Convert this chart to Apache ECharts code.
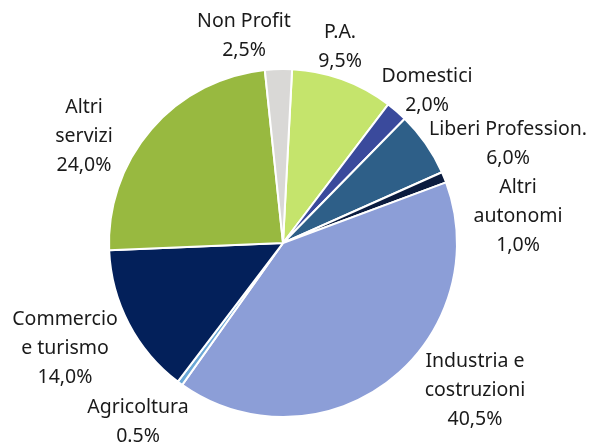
<!DOCTYPE html>
<html>
<head>
<meta charset="utf-8">
<script src="https://cdn.jsdelivr.net/npm/echarts@6/dist/echarts.min.js"></script>
<style>
  html, body { margin: 0; padding: 0; background: #fff; }
  #pie_chart { width: 592px; height: 443px; }
</style>
</head>
<body>
<div id="pie_chart"></div>
<script>
// slices, clockwise from the top
const categories = ['P.A.', 'Domestici', 'Liberi Profession.', 'Altri\nautonomi',
  'Industria e\ncostruzioni', 'Agricoltura', 'Commercio\ne turismo', 'Altri\nservizi', 'Non Profit'];
const values = [9.5, 2.0, 6.0, 1.0, 40.5, 0.5, 14.0, 24.0, 2.5];
const valueLabels = ['9,5%', '2,0%', '6,0%', '1,0%', '40,5%', '0.5%', '14,0%', '24,0%', '2,5%'];
const colors = ['#c5e46c', '#3a4a9c', '#2e5f88', '#0b1c3f', '#8c9ed7', '#6ba8d6', '#03205a', '#98b940', '#d9d8d6'];

// label block centres
const labelPos = [[340, 47], [427, 91], [508, 144], [518, 216], [475, 390],
  [138, 422], [65, 348], [84, 136], [244, 36]];

const eChart = echarts.init(document.getElementById('pie_chart'));
const option = {
  animation: false,
  series: [{
    type: 'pie',
    center: [283, 243],
    radius: 174,
    startAngle: 87,
    clockwise: true,
    itemStyle: {
      borderColor: '#fff',
      borderWidth: 2,
    },
    label: {
      show: true,
      position: 'outside',
      alignTo: 'none',
      overflow: 'none',
      fontFamily: 'Noto Sans',
      fontSize: 19.5,
      lineHeight: 29,
      color: '#1a1a1a',
      align: 'center',
      formatter: (p) => `${p.name}\n${valueLabels[p.dataIndex]}`,
    },
    labelLine: { show: false },
    labelLayout: (params) => ({
      x: labelPos[params.dataIndex][0],
      y: labelPos[params.dataIndex][1],
      align: 'center',
      verticalAlign: 'middle',
    }),
    data: categories.map((name, i) => ({
      name,
      value: values[i],
      itemStyle: { color: colors[i] },
    })),
  }],
};
eChart.setOption(option);
</script>
</body>
</html>
